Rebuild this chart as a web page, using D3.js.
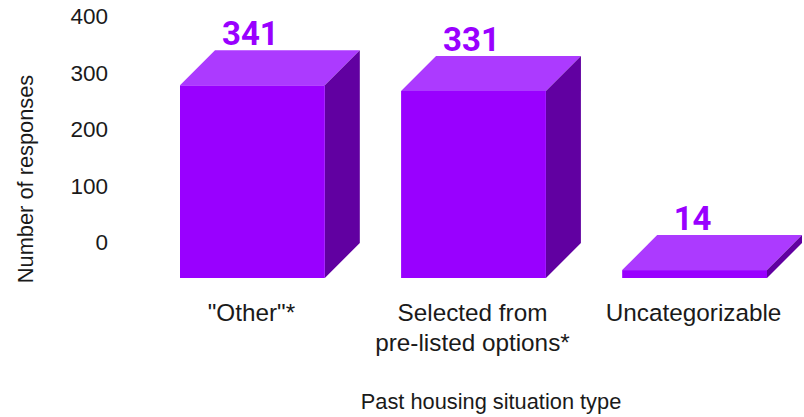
<!DOCTYPE html>
<html>
<head>
<meta charset="utf-8">
<script src="https://cdn.jsdelivr.net/npm/d3@7"></script>
<style>
  html, body { margin: 0; padding: 0; background: #fff; }
  text { font-family: "Liberation Sans", sans-serif; fill: #1a1a1a; }
</style>
</head>
<body>
<div id="chart"></div>
<script>
const categories = ['"Other"*', 'Selected from pre-listed options*', 'Uncategorizable'];
const values = [341, 331, 14];
const yTicks = [0, 100, 200, 300, 400];
const categoryLines = [['"Other"*'], ['Selected from', 'pre-listed options*'], ['Uncategorizable']];

const width = 804;
const height = 417;
const depth = 35; // offset of the back wall of each box

const svg = d3.select('#chart').append('svg')
  .attr('width', width)
  .attr('height', height)
  .style('display', 'block');

const xScale = d3.scaleBand()
  .domain(categories)
  .range([180, 767])
  .paddingInner(0.345)
  .paddingOuter(0);

// the axis runs along the back wall, the front faces sit depth px lower
const yScale = d3.scaleLinear()
  .domain([0, 400])
  .range([243, 17]);

const bars = svg.selectAll('g.bar')
  .data(categories.map((c, i) => ({ category: c, value: values[i] })))
  .enter()
  .append('g')
  .attr('class', 'bar');

const corners = (d) => ({
  x0: xScale(d.category),
  x1: xScale(d.category) + xScale.bandwidth(),
  top: yScale(d.value) + depth,
  base: yScale(0) + depth
});

// top face
bars.append('path')
  .attr('fill', '#ac3aff')
  .attr('d', (d) => {
    const c = corners(d);
    return `M${c.x0},${c.top}L${c.x0 + depth},${c.top - depth}L${c.x1 + depth},${c.top - depth}L${c.x1},${c.top}Z`;
  });

// side face
bars.append('path')
  .attr('fill', '#6100a1')
  .attr('d', (d) => {
    const c = corners(d);
    return `M${c.x1},${c.top}L${c.x1 + depth},${c.top - depth}L${c.x1 + depth},${c.base - depth}L${c.x1},${c.base}Z`;
  });

// front face
bars.append('rect')
  .attr('fill', '#9900ff')
  .attr('x', (d) => corners(d).x0)
  .attr('y', (d) => corners(d).top)
  .attr('width', xScale.bandwidth())
  .attr('height', (d) => corners(d).base - corners(d).top);

// Add data values on top of each bar
bars.append('text')
  .attr('x', (d) => xScale(d.category) + xScale.bandwidth() / 2 - 2)
  .attr('y', (d) => yScale(d.value) - 5)
  .attr('text-anchor', 'middle')
  .style('font-family', 'Roboto, sans-serif')
  .style('font-weight', 700)
  .style('font-size', '33px')
  .style('fill', '#9900ff')
  .text((d) => d.value);

// Add y-axis
const yAxis = svg.append('g')
  .attr('transform', 'translate(108, 0)')
  .call(d3.axisLeft(yScale).tickValues(yTicks).tickSize(0).tickPadding(0));
yAxis.select('.domain').remove();
yAxis.selectAll('text')
  .attr('dy', '0.3em')
  .style('font-family', '"Liberation Sans", sans-serif')
  .style('font-size', '22.5px')
  .style('fill', '#1a1a1a');

// Add x-axis labels
const xLabels = svg.selectAll('text.x-label')
  .data(categories)
  .enter()
  .append('text')
  .attr('class', 'x-label')
  .attr('text-anchor', 'middle')
  .style('font-size', '24.3px')
  .attr('y', 321);

xLabels.selectAll('tspan')
  .data((d, i) => categoryLines[i].map((line) => ({ line, category: d })))
  .enter()
  .append('tspan')
  .attr('x', (d) => xScale(d.category) + xScale.bandwidth() / 2 - 1)
  .attr('dy', (d, i) => (i === 0 ? 0 : 30))
  .text((d) => d.line);

// Add axis titles
svg.append('text')
  .attr('x', 491)
  .attr('y', 409)
  .attr('text-anchor', 'middle')
  .style('font-size', '21.8px')
  .text('Past housing situation type');

svg.append('text')
  .attr('transform', 'translate(33, 179) rotate(-90)')
  .attr('text-anchor', 'middle')
  .style('font-size', '21.8px')
  .text('Number of responses');
</script>
</body>
</html>
